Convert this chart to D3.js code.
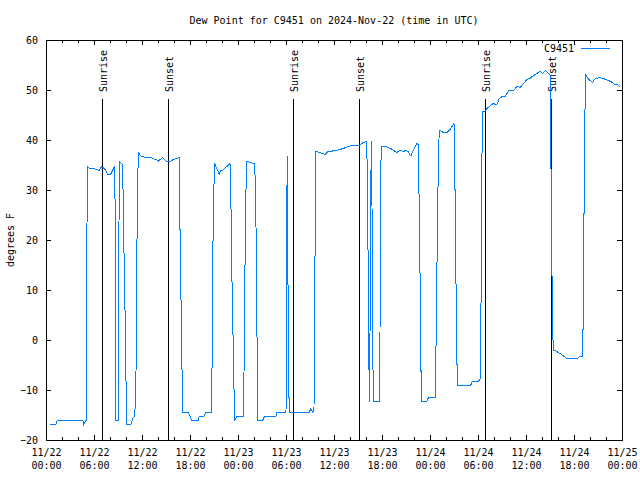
<!DOCTYPE html>
<html>
<head>
<meta charset="utf-8">
<script src="https://cdn.jsdelivr.net/npm/d3@7"></script>
<style>
  html, body { margin: 0; padding: 0; background: #fff; }
  svg { display: block; }
  text { font-family: "DejaVu Sans Mono", "Liberation Mono", monospace; font-size: 10px; fill: #000; }
</style>
</head>
<body>
<svg id="chart" width="640" height="480"></svg>
<script>
// ---- data (hours since 2024-11-22 00:00 UTC, dew point in °F) ----
const hours = [
  0.5, 1.25, 1.4, 4.6, 4.7, 4.9, 5.05, 5.1, 5.15, 5.4, 5.7, 6.1, 6.65, 6.95, 7.4, 7.7, 8.1, 8.25, 8.6, 8.7, 8.75,
  9.05, 9.1, 9.15, 9.4, 9.6, 9.65, 9.85, 10.0, 10.1, 10.6, 10.85, 11.1, 11.25, 11.35, 11.4, 11.55, 11.85, 12.5,
  13.2, 13.85, 14.05, 14.6, 15.0, 15.6, 15.9, 16.35, 16.65, 16.7, 16.85, 17.0, 17.1, 17.8, 18.2, 19.05, 19.15,
  19.75, 20.0, 20.7, 20.75, 20.85, 20.9, 21.1, 21.2, 21.65, 21.85, 22.1, 22.6, 23.0, 23.1, 23.2, 23.35, 23.5,
  23.6, 23.9, 24.65, 24.75, 24.85, 24.95, 25.1, 25.6, 26.1, 26.25, 26.4, 26.45, 27.1, 27.35, 28.75, 28.85,
  30.0, 30.05, 30.1, 30.15, 30.3, 30.4, 32.9, 33.1, 33.35, 33.5, 33.6, 33.75, 34.15, 34.6, 34.9, 35.3,
  35.7, 35.9, 36.55, 37.15, 37.8, 38.4, 39.25, 39.65, 40.1, 40.2, 40.35, 40.4, 40.5, 40.6, 40.65, 40.75,
  40.85, 40.9, 41.65, 41.75, 41.8, 41.9, 42.4, 43.1, 43.4, 43.85, 44.25, 44.65, 45.0, 45.3, 45.6, 45.9,
  46.35, 46.55, 46.65, 46.85, 46.9, 47.6, 47.8, 48.65, 48.7, 48.85, 48.9, 49.05, 49.15, 49.65, 50.15, 50.5,
  51.0, 51.1, 51.2, 51.35, 51.4, 53.1, 53.3, 54.05, 54.35, 54.4, 54.55, 54.9, 55.1, 55.5, 55.9, 56.35,
  56.65, 57.15, 57.4, 57.9, 58.5, 58.9, 59.25, 59.65, 60.1, 60.5, 60.85, 61.35, 61.75, 62.1, 62.4, 62.8,
  63.0, 63.1, 63.15, 63.3, 63.4, 63.85, 64.35, 64.75, 65.1, 66.4, 66.75, 67.1, 67.15, 67.25, 67.35, 67.45,
  67.8, 68.35, 68.6, 69.15, 69.65, 70.1, 70.6, 71.0, 71.4, 71.65, 71.8
];
const dewF = [
  -16.9, -16.9, -16, -16, -16.9, -16.3, -16, 9.5, 34.8, 34.3, 34.3, 34.2, 33.9, 34.7, 34.1, 33.1, 33.2, 33.7, 34.8, 9.5, -16,
  -16, 9.7, 35.8, 35.4, 35, 26.1, 9, -8.1, -16.9, -16.9, -15.7, -15.3, -6.5, 10.8, 28, 37.5, 36.8, 36.5,
  36.4, 36, 35.8, 36.5, 35.8, 35.8, 36.1, 36.3, 36.5, 28, 11, -5.9, -14.5, -14.5, -16, -16, -15.2,
  -15.2, -14.5, -14.5, -6, 10.7, 27, 35.3, 34.8, 33.2, 33.9, 34, 34.7, 35.3, 29.8, 16, 3.3, -9.7,
  -16, -15.2, -15.2, -6.7, 10.3, 27.3, 35.7, 35.5, 35.2, 22.7, -3.3, -16, -16, -15.2, -15.2, -14.5,
  -14.5, -1.5, 24, 36.8, -1.5, -14.5, -14.5, -13.7, -14.5, -13.7, 12, 37.7, 37.5, 37.3, 37.1, 37.8,
  37.6, 38, 38, 38.3, 38.7, 39, 39, 39.5, 39.7, 26.8, 1, -12.3, 1, 26.8, 39.7, 26.8,
  1, -12.3, -12.3, 0.7, 26, 38.8, 38.7, 38.3, 38, 37.5, 37.9, 37.7, 37.9, 37.6, 36.8, 37.9,
  39.3, 39.1, 26.3, 0.7, -12.3, -12.3, -11.5, -11.5, -6.3, 8.3, 21.7, 34.8, 42, 41.5, 41.5, 42.1,
  43.3, 34.7, 17.3, -0.3, -9, -9, -8.3, -8.3, -7.5, 19.2, 45.8, 45.8, 46.3, 46.8, 47.3, 47,
  48.3, 48.8, 48.7, 50, 50, 50.8, 50.5, 51.2, 52.1, 52.3, 52.8, 53.3, 53.7, 53.3, 53.9, 53.3,
  53.1, 44, 25.3, 7, -2, -2.3, -2.8, -3.3, -3.7, -3.7, -3.3, -3.2, 6.3, 25, 43.7, 53,
  52.2, 51.5, 52.2, 52.5, 52.3, 52, 51.7, 51.2, 51.2, 50.7, 50.5
];
const eventLabels = ["Sunrise", "Sunset", "Sunrise", "Sunset", "Sunrise", "Sunset"];
const eventHours = [7.04, 15.29, 30.92, 39.17, 54.92, 63.17];
const yTicks = [-20, -10, 0, 10, 20, 30, 40, 50, 60];
const seriesName = "C9451";
const titleText = "Dew Point for C9451 on 2024-Nov-22 (time in UTC)";
const yLabelText = "degrees F";

// ---- layout ----
const L = 46, R = 622, T = 40, B = 440;
const lineColor = "#0080ff";
const base = Date.UTC(2024, 10, 22, 0, 0);
const toDate = h => new Date(base + h * 3600000);

const svg = d3.select("#chart");
const x = d3.scaleUtc().domain([toDate(0), toDate(72)]).range([L, R]);
const y = d3.scaleLinear().domain([-20, 60]).range([B, T]);

const majorT = d3.utcHour.every(6).range(toDate(0), toDate(72.01));
const minorT = d3.utcHour.every(2).range(toDate(0), toDate(72.01)).filter(d => d.getUTCHours() % 6 !== 0);
const fmtDay = d3.utcFormat("%m/%d"), fmtTime = d3.utcFormat("%H:%M");

function clean(g) { g.select(".domain").remove(); g.selectAll("line").attr("shape-rendering", "crispEdges").attr("stroke", "#000"); }

// bottom major
const gb = svg.append("g").attr("transform", `translate(0,${B})`)
  .call(d3.axisBottom(x).tickValues(majorT).tickSize(-5).tickPadding(9).tickFormat(""))
  .call(clean);
gb.selectAll(".tick text").attr("dy", null).each(function(d) {
  const t = d3.select(this);
  t.append("tspan").attr("x", 0).attr("dy", "0.71em").text(fmtDay(d));
  t.append("tspan").attr("x", 0).attr("dy", "13px").text(fmtTime(d));
});
svg.append("g").attr("transform", `translate(0,${B})`)
  .call(d3.axisBottom(x).tickValues(minorT).tickSize(-3).tickFormat("")).call(clean);
// top mirror
svg.append("g").attr("transform", `translate(0,${T})`)
  .call(d3.axisTop(x).tickValues(majorT).tickSize(-5).tickFormat("")).call(clean);
svg.append("g").attr("transform", `translate(0,${T})`)
  .call(d3.axisTop(x).tickValues(minorT).tickSize(-3).tickFormat("")).call(clean);
// left / right
svg.append("g").attr("transform", `translate(${L},0)`)
  .call(d3.axisLeft(y).tickValues(yTicks).tickSize(-5).tickPadding(8).tickFormat(d3.format("d"))).call(clean);
svg.append("g").attr("transform", `translate(${R},0)`)
  .call(d3.axisRight(y).tickValues(yTicks).tickSize(-5).tickFormat("")).call(clean);

svg.selectAll(".tick text").attr("font-family", null).attr("font-size", null).attr("fill", "#000");

// frame
svg.append("rect").attr("x", L).attr("y", T).attr("width", R - L).attr("height", B - T)
  .attr("fill", "none").attr("stroke", "#000").attr("shape-rendering", "crispEdges");

// sunrise / sunset markers
const markerTop = 99;
const ev = svg.append("g").selectAll("g").data(eventHours).join("g");
ev.append("line").attr("x1", d => x(toDate(d))).attr("x2", d => x(toDate(d)))
  .attr("y1", markerTop).attr("y2", B).attr("stroke", "#000").attr("shape-rendering", "crispEdges");
ev.append("text").attr("transform", d => `translate(${x(toDate(d)) + 1},92) rotate(-90)`)
  .attr("text-anchor", "start").attr("dominant-baseline", "central")
  .text((d, i) => eventLabels[i]);

// series line
const line = d3.line().x((d, i) => x(toDate(hours[i]))).y(d => y(d));
svg.append("path").datum(dewF).attr("d", line).attr("fill", "none")
  .attr("stroke", lineColor).attr("stroke-width", 1).attr("shape-rendering", "crispEdges");

// legend
svg.append("line").attr("x1", 581).attr("x2", 610).attr("y1", 48).attr("y2", 48)
  .attr("stroke", lineColor).attr("shape-rendering", "crispEdges");
svg.append("text").attr("x", 574).attr("y", 48).attr("text-anchor", "end")
  .attr("dominant-baseline", "central").text(seriesName);

// title and axis label
svg.append("text").attr("x", (L + R) / 2).attr("y", 20).attr("text-anchor", "middle")
  .attr("dominant-baseline", "central").text(titleText);
svg.append("text").attr("transform", `translate(10,${(T + B) / 2}) rotate(-90)`)
  .attr("text-anchor", "middle").attr("dominant-baseline", "central").text(yLabelText);
</script>
</body>
</html>
